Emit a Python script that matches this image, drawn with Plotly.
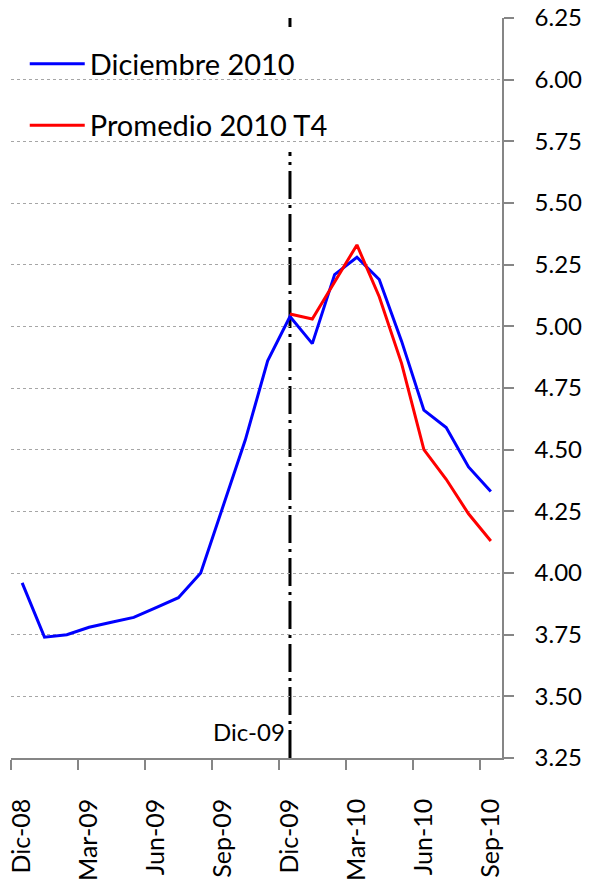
import plotly.graph_objects as go

# ---- data ----
months = ["Dic-08", "Ene-09", "Feb-09", "Mar-09", "Abr-09", "May-09", "Jun-09",
          "Jul-09", "Ago-09", "Sep-09", "Oct-09", "Nov-09", "Dic-09", "Ene-10",
          "Feb-10", "Mar-10", "Abr-10", "May-10", "Jun-10", "Jul-10", "Ago-10",
          "Sep-10"]
diciembre_2010 = [3.96, 3.74, 3.75, 3.78, 3.80, 3.82, 3.86, 3.90, 4.00, 4.27,
                  4.54, 4.86, 5.04, 4.93, 5.21, 5.28, 5.19, 4.94, 4.66, 4.59,
                  4.43, 4.33]
promedio_2010_t4 = [None] * 12 + [5.05, 5.03, 5.18, 5.33, 5.12, 4.85, 4.50,
                                  4.38, 4.24, 4.13]
label_every = 3
marker_month = "Dic-09"
series_names = ["Diciembre 2010", "Promedio 2010 T4"]

FONT = "Lato"
GRAY = "#868686"

idx = list(range(len(months)))
tickvals = idx[::label_every]
ticktext = months[::label_every]
boundaries = [i - 0.5 for i in idx[::label_every]]
marker_x = months.index(marker_month)

fig = go.Figure()
fig.add_trace(go.Scatter(x=idx, y=diciembre_2010, mode="lines", name=series_names[0],
                         line=dict(color="#0000FF", width=3), legend="legend",
                         showlegend=True))
fig.add_trace(go.Scatter(x=idx, y=promedio_2010_t4, mode="lines", name=series_names[1],
                         line=dict(color="#FF0000", width=3), legend="legend2",
                         showlegend=True))

legend_common = dict(xanchor="left", yanchor="middle", bgcolor="rgba(0,0,0,0)",
                     font=dict(size=29, family=FONT, color="black"), itemwidth=55)

fig.update_layout(
    width=589, height=886, showlegend=True,
    margin=dict(l=11, r=87, t=18, b=128, pad=0, autoexpand=False),
    paper_bgcolor="white", plot_bgcolor="white",
    font=dict(family=FONT, color="black"),
    xaxis=dict(range=[-0.5, len(months) - 0.5], tickmode="array",
               tickvals=tickvals, ticktext=ticktext, tickangle=-90,
               ticks="", showgrid=False, zeroline=False, automargin=False,
               showline=True, linecolor=GRAY, linewidth=1.5,
               ticklabeloverflow="allow",
               tickfont=dict(size=25, family=FONT, color="black"),
               ticklabelstandoff=29,
               minor=dict(tickmode="array", tickvals=boundaries, ticks="outside",
                          ticklen=10, tickwidth=1.5, tickcolor=GRAY, showgrid=False)),
    yaxis=dict(range=[3.25, 6.25], dtick=0.25, tick0=3.25, tickformat=".2f",
               side="right", ticks="outside", ticklen=10, tickwidth=1.5,
               tickcolor=GRAY, showline=True, linecolor=GRAY, linewidth=1.5,
               showgrid=True, gridcolor="#a6a6a6", gridwidth=1, griddash="dot",
               zeroline=False, automargin=False, ticklabeloverflow="allow",
               tickfont=dict(size=24, family=FONT, color="black"),
               ticklabelstandoff=16),
    legend=dict(x=0.028, y=0.938, **legend_common),
    legend2=dict(x=0.028, y=0.855, **legend_common),
    shapes=[
        dict(type="line", xref="x", yref="paper", x0=marker_x, x1=marker_x,
             y0=0, y1=1, line=dict(color="black", width=3,
                                   dash="28px,6px,3px,6px"), layer="between"),
        dict(type="rect", xref="paper", yref="paper", x0=-0.03, x1=0.682,
             y0=0.819, y1=0.982, fillcolor="white", line=dict(width=0),
             layer="between"),
    ],
    annotations=[
        dict(x=marker_x, y=0, xref="x", yref="paper", text=marker_month,
             showarrow=False, xanchor="right", yanchor="bottom",
             xshift=-3, yshift=10, font=dict(size=24, family=FONT, color="black")),
    ],
)

fig.write_html("out.html",
               config={"displayModeBar": False},
               post_script="document.body.style.margin='0';"
                           "document.body.style.overflow='hidden';")
